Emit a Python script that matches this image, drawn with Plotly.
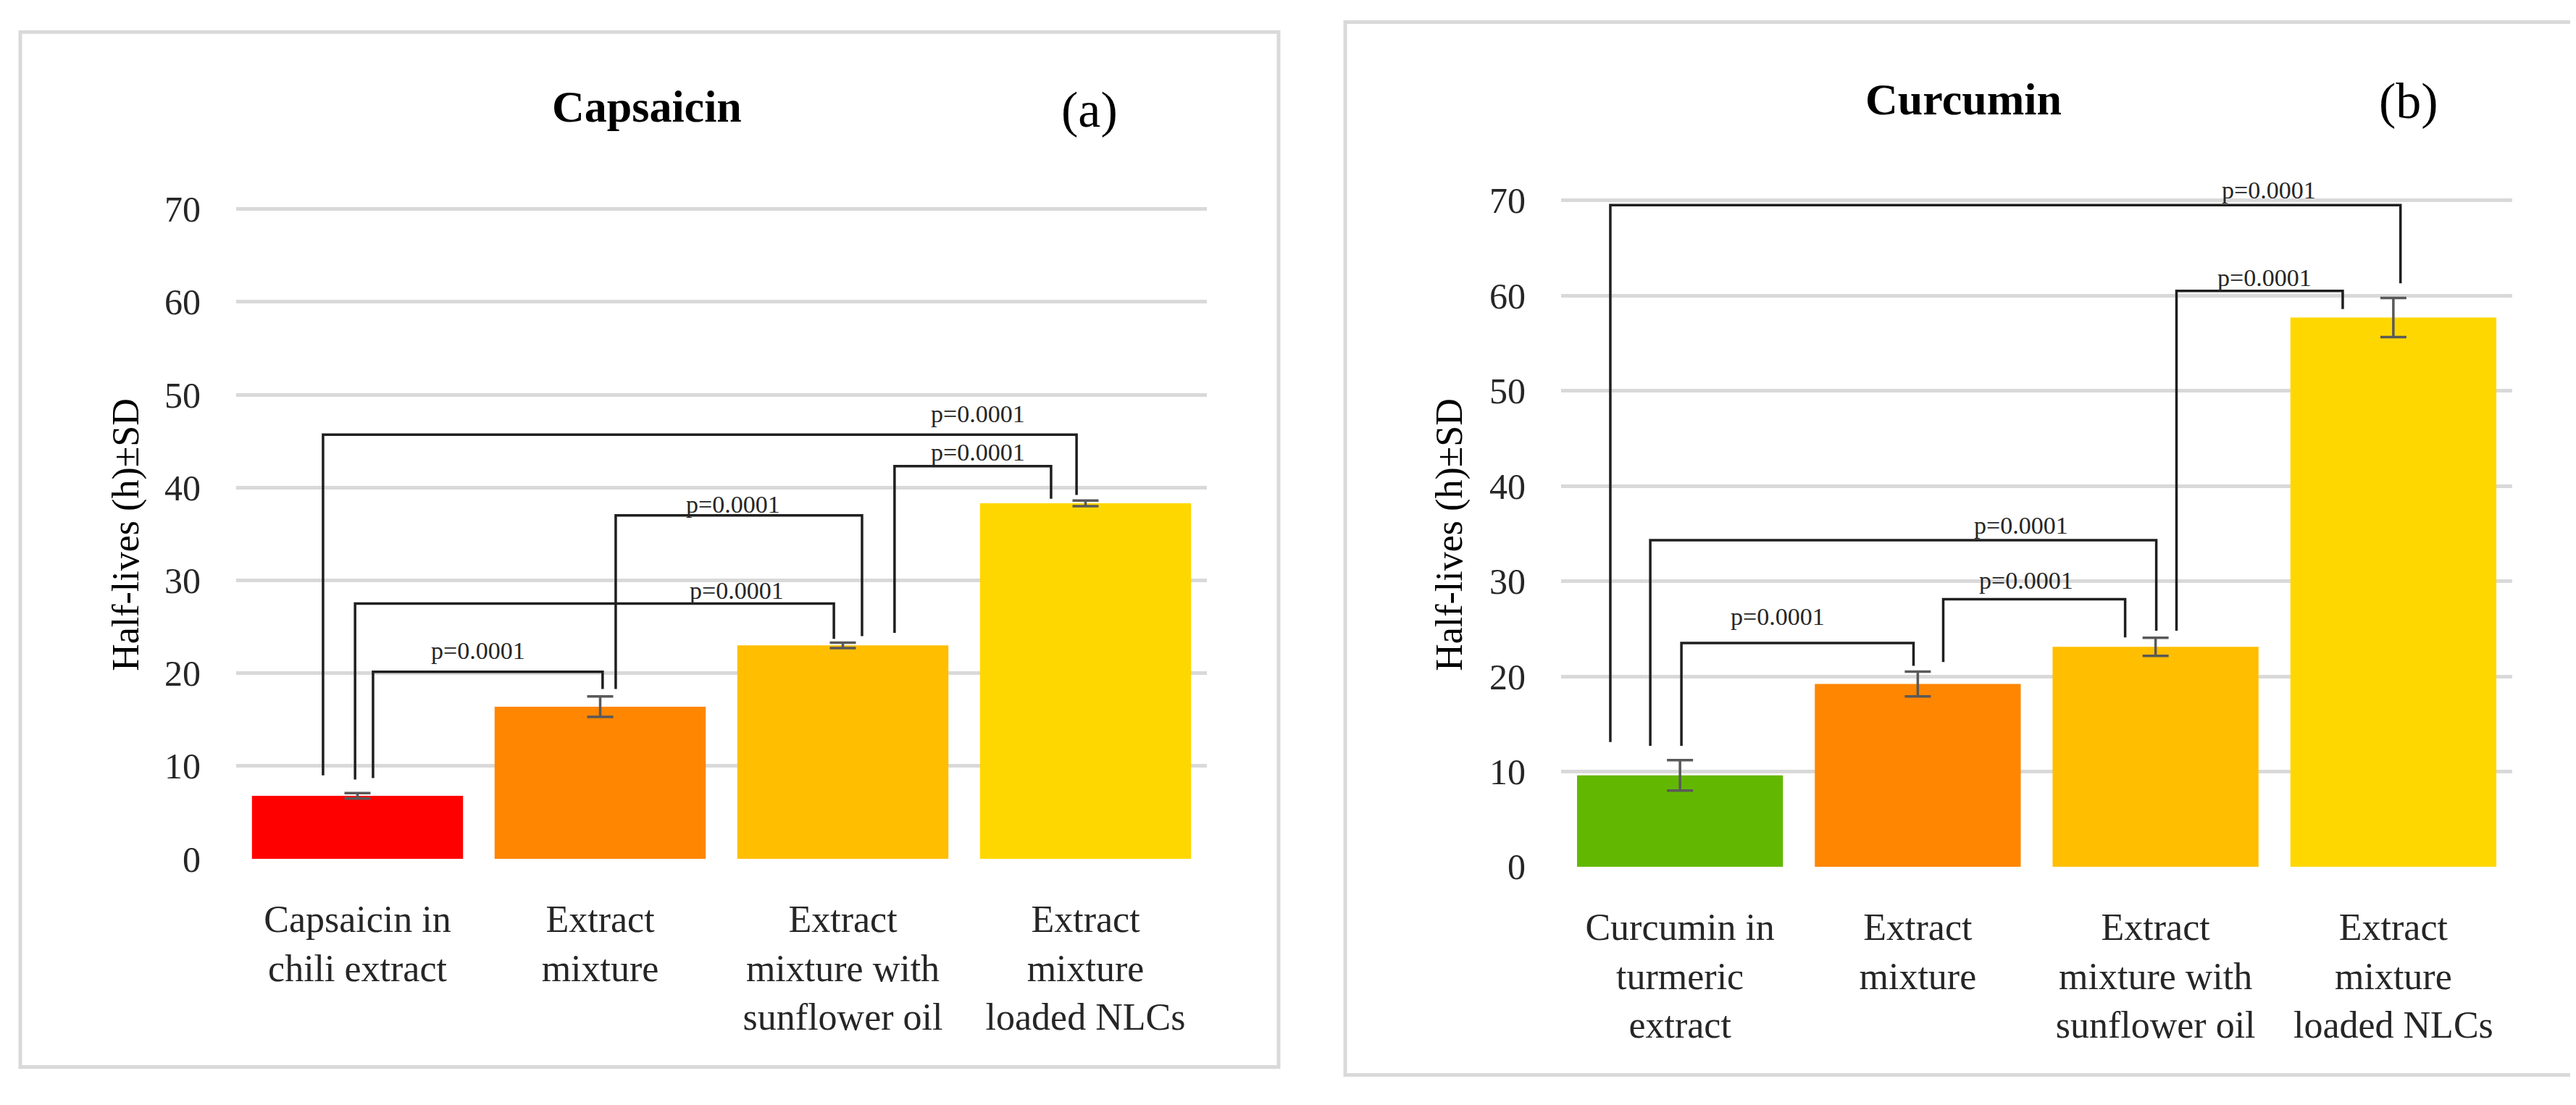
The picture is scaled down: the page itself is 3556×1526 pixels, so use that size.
import plotly.graph_objects as go

W, H = 3556, 1526

# ---------------- data ----------------
cats_a = ["Capsaicin in<br>chili extract", "Extract<br>mixture",
          "Extract<br>mixture with<br>sunflower oil", "Extract<br>mixture<br>loaded NLCs"]
vals_a = [6.8, 16.4, 23.0, 38.3]
sd_a = [0.3, 1.1, 0.3, 0.3]
colors_a = ["#FF0000", "#FF8600", "#FFBE00", "#FFD700"]

cats_b = ["Curcumin in<br>turmeric<br>extract", "Extract<br>mixture",
          "Extract<br>mixture with<br>sunflower oil", "Extract<br>mixture<br>loaded NLCs"]
vals_b = [9.6, 19.2, 23.1, 57.7]
sd_b = [1.6, 1.3, 0.95, 2.05]
colors_b = ["#62B800", "#FF8600", "#FFBE00", "#FFD700"]

y_ticks = [0, 10, 20, 30, 40, 50, 60, 70]

# significance brackets (x in category units, y in hours)
br_a_x0 = [0.064, -0.01, 1.064, 2.213, -0.142]
br_a_x1 = [1.01, 1.963, 2.079, 2.858, 2.963]
br_a_h = [20.15, 27.5, 37.0, 42.3, 45.7]
br_a_b0 = [8.7, 8.55, 18.3, 24.35, 9.0]
br_a_b1 = [18.3, 23.7, 24.0, 38.8, 39.2]
br_a_lx = [0.497, 1.563, 1.548, 2.557, 2.557]
br_a_ly = [22.4, 28.9, 38.2, 43.8, 47.9]

br_b_x0 = [0.006, 1.107, -0.125, 2.088, -0.293]
br_b_x1 = [0.982, 1.872, 2.003, 2.787, 3.03]
br_b_h = [23.5, 28.1, 34.3, 60.5, 69.5]
br_b_b0 = [12.7, 21.5, 12.7, 24.8, 13.1]
br_b_b1 = [21.1, 24.1, 24.8, 58.6, 61.3]
br_b_lx = [0.41, 1.457, 1.433, 2.457, 2.476]
br_b_ly = [26.3, 30.1, 35.9, 61.9, 71.1]

p_text = "p=0.0001"

# ---------------- styling ----------------
FONT = "Liberation Serif, Times New Roman, serif"
GRID = "#D9D9D9"
TXT = "#262626"
LINE = "#1F1F1F"


def px_x(p):
    return p / W


def px_y(p):
    return 1 - p / H


fig = go.Figure()

panels = [
    dict(cats=cats_a, vals=vals_a, sd=sd_a, colors=colors_a, xa="x", ya="y",
         x0=br_a_x0, x1=br_a_x1, h=br_a_h, b0=br_a_b0, b1=br_a_b1, lx=br_a_lx, ly=br_a_ly,
         xdom=[px_x(318), px_x(1658)], ydom=[px_y(1201), px_y(1201 - 74 * 13.071)],
         width=0.87, title="Capsaicin", tag="(a)", tx=885, ty=142, tagx=1496, tagy=146,
         ytx=166, yty=745, box=(20, 37, 1757, 1494)),
    dict(cats=cats_b, vals=vals_b, sd=sd_b, colors=colors_b, xa="x2", ya="y2",
         x0=br_b_x0, x1=br_b_x1, h=br_b_h, b0=br_b_b0, b1=br_b_b1, lx=br_b_lx, ly=br_b_ly,
         xdom=[px_x(2147), px_x(3460)], ydom=[px_y(1212), px_y(1212 - 74 * 13.4)],
         width=0.866, title="Curcumin", tag="(b)", tx=2702, ty=132, tagx=3317, tagy=134,
         ytx=1993, yty=745, box=(1849, 23, 3545, 1505)),
]

shapes = []
annotations = []

for i, p in enumerate(panels):
    fig.add_trace(go.Bar(
        x=list(range(len(p["cats"]))), y=p["vals"],
        marker=dict(color=p["colors"], line=dict(width=0)),
        width=p["width"],
        error_y=dict(type="data", array=p["sd"], visible=True,
                     color="#595959", thickness=3.5, width=18),
        xaxis=p["xa"], yaxis=p["ya"], showlegend=False,
        hoverinfo="skip",
    ))
    suffix = "" if i == 0 else "2"
    fig.update_layout(**{
        "xaxis" + suffix: dict(
            domain=p["xdom"], range=[-0.5, 3.5], anchor="y" + suffix,
            tickmode="array", tickvals=list(range(len(p["cats"]))), ticktext=p["cats"],
            showgrid=False, zeroline=False, showline=False, ticks="",
            tickfont=dict(family=FONT, size=52, color=TXT),
            ticklabelstandoff=48, fixedrange=True,
        ),
        "yaxis" + suffix: dict(
            domain=p["ydom"], range=[0, 74], anchor="x" + suffix,
            tickmode="array", tickvals=y_ticks,
            showgrid=True, gridcolor=GRID, gridwidth=5,
            zeroline=False, showline=False, ticks="",
            tickfont=dict(family=FONT, size=50, color=TXT),
            ticklabelstandoff=48, fixedrange=True,
        ),
    })

    # brackets
    for x0, x1, h, b0, b1 in zip(p["x0"], p["x1"], p["h"], p["b0"], p["b1"]):
        shapes.append(dict(
            type="path", xref=p["xa"], yref=p["ya"],
            path=f"M {x0},{b0} L {x0},{h} L {x1},{h} L {x1},{b1}",
            line=dict(color=LINE, width=3.5), layer="above",
        ))
    for lx, ly in zip(p["lx"], p["ly"]):
        annotations.append(dict(
            x=lx, y=ly, xref=p["xa"], yref=p["ya"], text=p_text, showarrow=False,
            font=dict(family=FONT, size=34, color=TXT), xanchor="center", yanchor="middle",
        ))

    # titles
    annotations.append(dict(
        x=px_x(p["tx"]), y=px_y(p["ty"]), xref="paper", yref="paper",
        text="<b>" + p["title"] + "</b>", showarrow=False,
        font=dict(family=FONT, size=62, color="#000000"), xanchor="center", yanchor="middle",
    ))
    annotations.append(dict(
        x=px_x(p["tagx"]), y=px_y(p["tagy"]), xref="paper", yref="paper",
        text=p["tag"], showarrow=False,
        font=dict(family=FONT, size=70, color="#000000"), xanchor="center", yanchor="middle",
    ))
    annotations.append(dict(
        x=px_x(p["ytx"]), y=px_y(p["yty"]), xref="paper", yref="paper",
        text="Half-lives (h)±SD", showarrow=False, textangle=-90,
        font=dict(family=FONT, size=52, color="#000000"), xanchor="center", yanchor="middle",
    ))

    # panel border
    bx0, by0, bx1, by1 = p["box"]
    shapes.append(dict(
        type="rect", xref="paper", yref="paper",
        x0=px_x(bx0), x1=px_x(bx1), y0=px_y(by1), y1=px_y(by0),
        line=dict(color=GRID, width=5), fillcolor="rgba(0,0,0,0)", layer="below",
    ))

fig.update_layout(
    width=W, height=H,
    margin=dict(l=0, r=0, t=0, b=0),
    paper_bgcolor="white", plot_bgcolor="white",
    shapes=shapes, annotations=annotations,
    bargap=0.13,
)

fig.write_html("out.html", config={"displayModeBar": False})
